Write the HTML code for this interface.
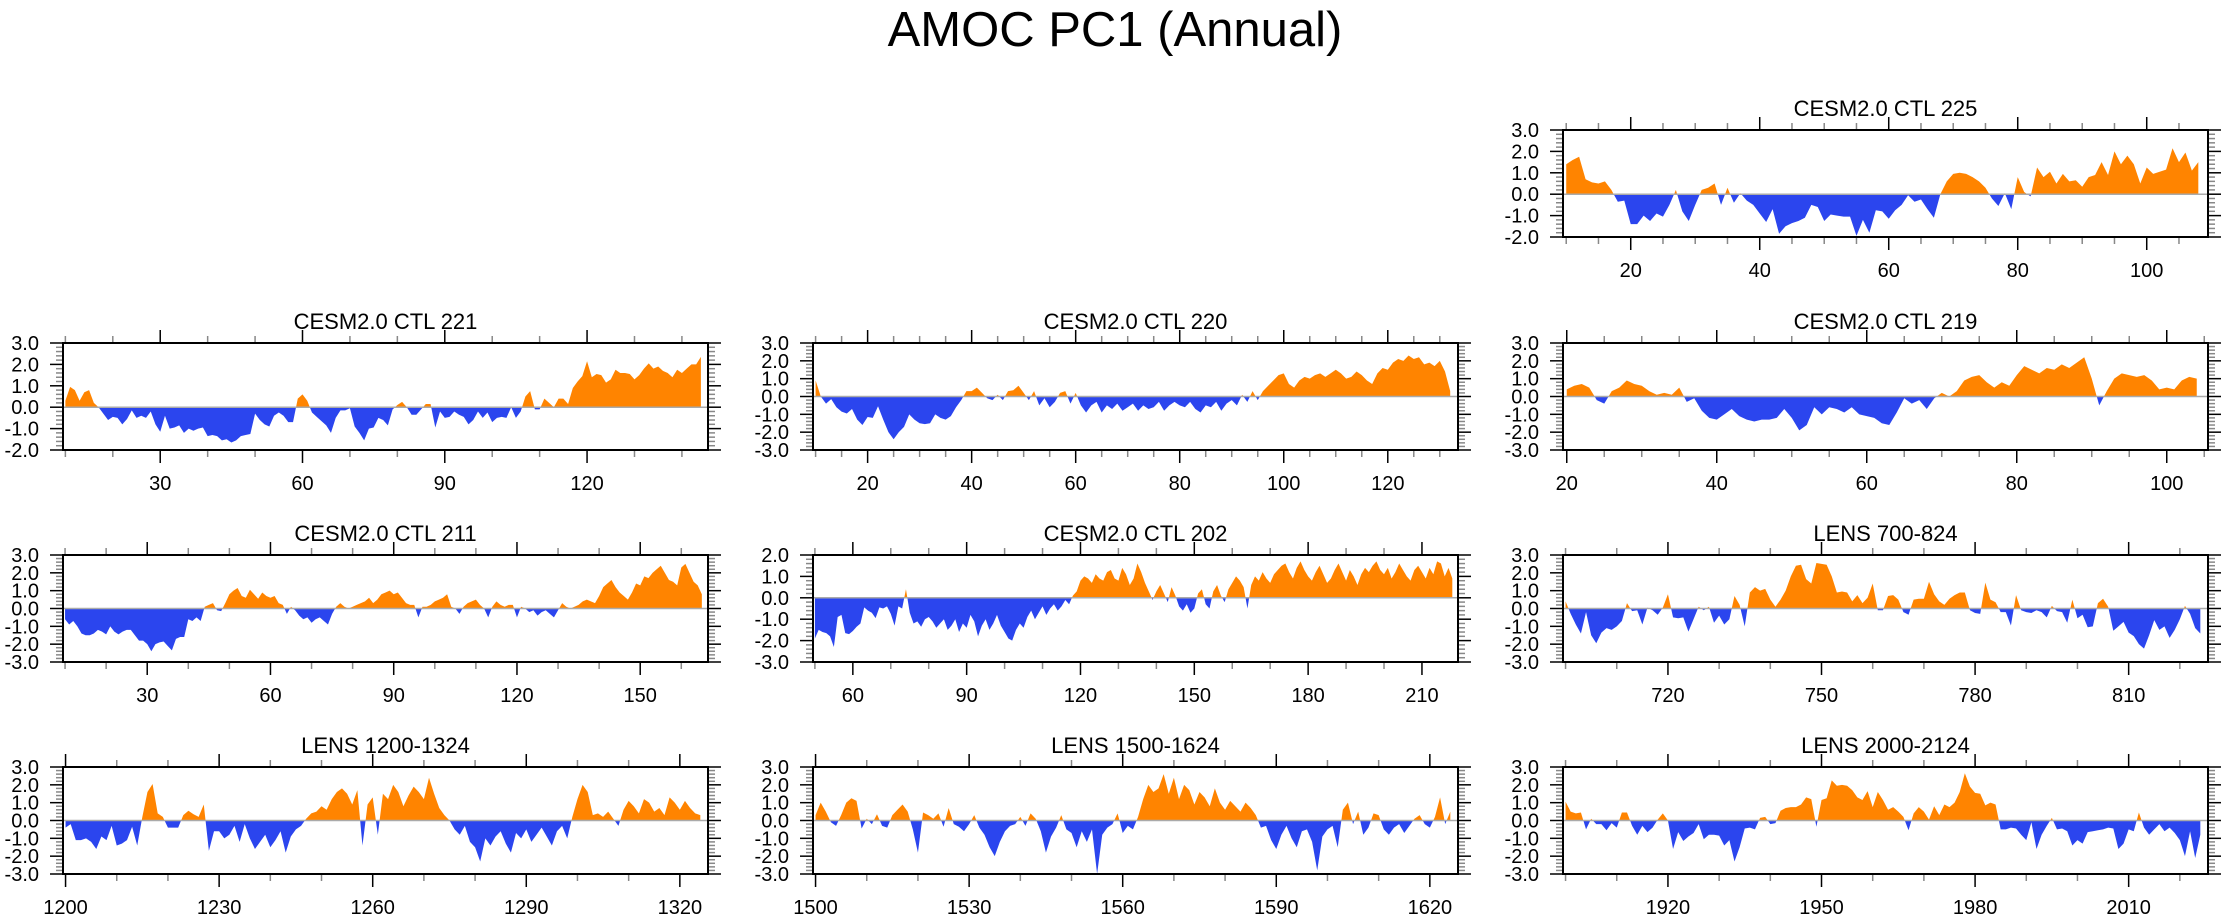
<!DOCTYPE html>
<html>
<head>
<meta charset="utf-8">
<style>
html,body{margin:0;padding:0;background:#fff;}
svg{display:block;}
text{font-family:"Liberation Sans",Arial,sans-serif;fill:#000;}
</style>
</head>
<body>
<svg id="chart" width="2230" height="921" viewBox="0 0 2230 921" xmlns="http://www.w3.org/2000/svg">
<text x="1115" y="46" font-size="49" text-anchor="middle">AMOC PC1 (Annual)</text>
</svg>
<script>
// ---- data ----
const titles = ["CESM2.0 CTL 225","CESM2.0 CTL 221","CESM2.0 CTL 220","CESM2.0 CTL 219","CESM2.0 CTL 211","CESM2.0 CTL 202","LENS 700-824","LENS 1200-1324","LENS 1500-1624","LENS 2000-2124"];
const startYears = [10,10,10,20,10,50,700,1200,1500,1900];
const yMins = [-2,-2,-3,-3,-3,-3,-3,-3,-3,-3];
const yMaxs = [3,3,3,3,3,2,3,3,3,3];
const labelSteps = [20,30,20,20,30,30,30,30,30,30];
const minorSteps = [5,10,5,5,10,10,10,10,10,10];

const pc225 = [1.4,1.6,1.75,0.7,0.55,0.5,0.6,0.2,-0.35,-0.3,
-1.4,-1.4,-1.0,-1.25,-0.9,-1.05,-0.5,0.2,-0.8,-1.25,
-0.5,0.2,0.3,0.5,-0.5,0.3,-0.4,0.05,-0.3,-0.5,
-0.9,-1.3,-0.7,-1.85,-1.5,-1.35,-1.25,-1.1,-0.5,-0.6,
-1.25,-0.95,-1.0,-1.05,-1.05,-1.95,-1.2,-1.8,-0.75,-0.8,
-1.15,-0.75,-0.5,-0.05,-0.35,-0.25,-0.7,-1.1,0.0,0.6,
0.95,1.0,0.95,0.8,0.6,0.3,-0.2,-0.55,0.05,-0.7,
0.8,0.1,-0.1,1.25,0.8,1.05,0.5,0.95,0.6,0.65,
0.35,0.8,0.9,1.5,0.9,2.0,1.4,1.8,1.4,0.5,
1.25,0.95,1.05,1.15,2.15,1.5,1.95,1.1,1.5];

const pc221 = [0.3,0.95,0.8,0.3,0.7,0.8,0.2,0.0,-0.3,-0.6,
-0.45,-0.5,-0.8,-0.55,-0.15,-0.5,-0.4,-0.5,-0.2,-0.8,
-1.15,-0.4,-1.0,-0.95,-0.85,-1.2,-1.0,-1.1,-1.0,-0.95,
-1.35,-1.3,-1.35,-1.55,-1.5,-1.65,-1.55,-1.35,-1.3,-1.25,
-0.3,-0.6,-0.8,-0.9,-0.4,-0.25,-0.4,-0.7,-0.7,0.4,
0.6,0.3,-0.25,-0.45,-0.65,-0.85,-1.2,-0.5,-0.15,-0.15,
-0.05,-0.9,-1.2,-1.55,-1.0,-0.95,-0.5,-0.6,-0.85,-0.1,
0.1,0.25,0.0,-0.35,-0.35,-0.1,0.15,0.15,-0.95,-0.2,
-0.5,-0.45,-0.2,-0.35,-0.45,-0.8,-0.6,-0.2,-0.5,-0.25,
-0.7,-0.5,-0.45,-0.5,0.0,-0.5,-0.2,0.5,0.75,-0.1,
-0.1,0.4,0.2,0.0,0.4,0.4,0.15,0.9,1.2,1.45,
2.15,1.4,1.55,1.5,1.15,1.3,1.75,1.6,1.6,1.55,
1.3,1.5,1.8,2.05,1.8,1.9,1.7,1.6,1.4,1.75,
1.6,1.8,2.0,2.0,2.35];

const pc220 = [0.9,0.0,-0.4,-0.15,-0.6,-0.85,-0.95,-0.7,-1.3,-1.6,
-1.15,-1.2,-0.55,-1.3,-2.0,-2.4,-2.0,-1.7,-1.0,-1.3,
-1.5,-1.55,-1.5,-1.0,-1.2,-1.3,-1.1,-0.6,-0.2,0.3,
0.3,0.5,0.2,-0.1,-0.2,0.1,-0.2,0.3,0.35,0.6,
0.2,-0.2,0.3,-0.5,-0.1,-0.6,-0.3,0.2,0.3,-0.4,
0.2,-0.5,-0.9,-0.5,-0.3,-0.9,-0.5,-0.7,-0.4,-0.8,
-0.6,-0.4,-0.8,-0.5,-0.7,-0.6,-0.3,-0.8,-0.5,-0.3,
-0.5,-0.6,-0.3,-0.7,-0.9,-0.5,-0.6,-0.3,-0.8,-0.4,
-0.2,-0.5,0.1,-0.3,0.3,-0.2,0.3,0.6,0.9,1.2,
1.3,0.7,0.5,0.9,1.1,1.0,1.2,1.3,1.1,1.3,
1.5,1.3,1.0,1.1,1.4,1.2,0.9,0.7,1.3,1.6,
1.5,1.9,2.1,2.0,2.3,2.1,2.2,1.8,1.9,1.7,
2.0,1.4,0.3];

const pc219 = [0.4,0.6,0.7,0.5,-0.2,-0.4,0.3,0.5,0.9,0.7,
0.6,0.3,0.1,0.2,0.1,0.5,-0.3,-0.1,-0.8,-1.2,
-1.3,-1.0,-0.7,-1.1,-1.3,-1.4,-1.3,-1.3,-1.2,-0.7,
-1.2,-1.9,-1.6,-0.6,-1.0,-0.6,-0.7,-0.9,-0.6,-1.0,
-1.1,-1.2,-1.5,-1.6,-0.9,-0.1,-0.4,-0.2,-0.7,-0.1,
0.2,0.0,0.3,0.9,1.1,1.2,0.8,0.5,0.8,0.6,
1.2,1.7,1.5,1.3,1.6,1.5,1.8,1.6,1.9,2.2,
1.0,-0.5,0.3,1.0,1.3,1.2,1.1,1.2,0.9,0.4,
0.5,0.4,0.9,1.1,1.0];

const pc211 = [-0.6,-0.9,-0.7,-1.0,-1.4,-1.5,-1.5,-1.4,-1.2,-1.3,
-1.45,-1.0,-1.3,-1.45,-1.3,-1.2,-1.2,-1.5,-1.8,-1.8,
-2.0,-2.4,-2.0,-1.9,-1.85,-2.1,-2.35,-1.7,-1.6,-1.6,
-0.6,-0.7,-0.5,-0.7,0.1,0.2,0.3,-0.1,-0.15,0.3,
0.8,1.0,1.15,0.7,0.6,1.05,0.8,0.55,0.9,0.7,
0.6,0.7,0.3,0.2,-0.3,0.1,-0.1,-0.4,-0.6,-0.5,
-0.8,-0.6,-0.5,-0.7,-0.9,-0.3,0.1,0.3,0.1,0.0,
0.1,0.2,0.3,0.4,0.6,0.3,0.5,0.8,0.9,1.0,
0.8,0.9,0.6,0.3,0.2,0.2,-0.5,0.1,0.1,0.2,
0.4,0.5,0.6,0.8,0.1,0.0,-0.3,0.1,0.3,0.4,
0.5,0.2,0.0,-0.5,0.1,0.4,0.2,0.1,0.2,0.2,
-0.5,0.1,0.0,-0.2,-0.1,-0.4,-0.2,-0.1,-0.3,-0.5,
-0.1,0.3,0.1,0.0,0.1,0.2,0.4,0.5,0.4,0.3,
0.7,1.2,1.4,1.6,1.2,0.9,0.7,0.5,0.9,1.4,
1.3,1.8,1.7,2.0,2.2,2.4,2.0,1.6,1.5,1.3,
2.3,2.5,2.0,1.5,1.3,0.8];

const pc202 = [-1.9,-1.5,-1.6,-1.65,-1.8,-2.3,-0.9,-0.8,-1.65,-1.7,
-1.55,-1.35,-1.2,-0.45,-0.6,-0.7,-0.95,-0.45,-0.5,-0.4,
-0.75,-1.3,-0.4,-0.5,0.4,-0.7,-1.2,-1.1,-1.35,-1.0,
-0.9,-1.1,-1.4,-1.2,-1.0,-1.5,-1.3,-1.0,-1.6,-1.2,
-1.4,-0.8,-1.1,-1.8,-1.3,-1.0,-1.5,-1.2,-0.8,-1.3,
-1.6,-1.9,-2.0,-1.5,-1.2,-1.4,-0.9,-0.6,-1.0,-0.7,
-0.4,-0.8,-0.5,-0.3,-0.6,-0.4,-0.1,-0.3,0.1,0.3,
0.8,1.0,0.9,0.7,1.1,0.9,0.8,1.2,1.3,0.9,
0.8,1.4,1.1,0.6,0.9,1.6,1.2,0.7,0.3,-0.1,
0.3,0.6,0.2,-0.2,0.5,0.1,-0.4,-0.6,-0.3,-0.7,
-0.5,0.2,0.4,-0.3,-0.5,0.3,0.6,0.1,-0.2,0.4,
0.7,1.0,0.8,0.5,-0.5,0.6,1.0,0.8,1.2,0.9,
0.7,1.1,1.3,1.5,1.6,1.2,0.9,1.4,1.7,1.3,
1.0,0.8,1.2,1.5,1.1,0.7,0.9,1.3,1.6,1.2,
0.8,1.3,1.0,0.6,1.1,1.4,1.2,1.5,1.7,1.3,
1.1,1.4,0.9,1.2,1.6,1.3,1.0,0.8,1.3,1.5,
1.2,0.9,1.4,1.1,1.7,1.6,1.0,1.4,0.9];

const pc700 = [0.4,-0.3,-0.9,-1.4,-0.2,-1.5,-1.95,-1.35,-1.1,-1.2,
-1.0,-0.7,0.3,-0.15,-0.1,-0.9,0.05,-0.1,-0.35,0.05,
0.8,-0.5,-0.55,-0.5,-1.3,-0.6,0.1,-0.1,0.1,-0.8,
-0.4,-0.9,-0.6,0.7,0.2,-1.0,0.9,1.2,1.0,1.1,
0.5,0.1,0.5,1.0,1.8,2.4,2.45,1.65,1.4,2.55,
2.5,2.45,1.8,0.9,0.95,0.9,0.4,0.75,0.3,0.6,
1.4,-0.1,-0.1,0.7,0.75,0.5,-0.2,-0.35,0.5,0.55,
0.55,1.5,0.8,0.4,0.2,0.55,0.75,0.9,0.9,-0.1,
-0.25,-0.3,1.45,0.5,0.35,-0.2,-0.2,-0.95,0.75,-0.1,
-0.2,-0.25,-0.1,-0.2,-0.5,0.15,-0.15,-0.2,-0.8,0.5,
-0.55,-0.35,-1.05,-1.0,0.3,0.55,0.1,-1.25,-1.0,-0.75,
-1.35,-1.55,-2.0,-2.25,-1.5,-0.65,-1.2,-1.0,-1.65,-1.2,
-0.6,0.15,-0.3,-1.1,-1.4];

const pc1200 = [-0.4,-0.2,-1.1,-1.1,-1.0,-1.2,-1.6,-0.9,-1.1,-0.3,
-1.4,-1.3,-1.1,-0.35,-1.4,0.2,1.6,2.05,0.4,0.2,
-0.4,-0.4,-0.4,0.3,0.55,0.35,0.2,0.9,-1.7,-0.6,
-0.6,-1.0,-0.8,-0.3,-1.2,-0.2,-1.0,-1.6,-1.2,-0.8,
-1.5,-1.1,-0.6,-1.8,-0.9,-0.5,-0.3,0.1,0.4,0.5,
0.8,0.6,1.2,1.6,1.8,1.5,0.9,1.7,-1.4,0.9,
1.3,-0.8,1.5,1.2,2.0,1.6,0.8,1.4,1.9,1.6,
1.2,2.4,1.5,0.7,0.3,0.0,-0.5,-0.8,-0.3,-1.2,
-1.5,-2.3,-1.0,-1.4,-0.9,-0.6,-1.3,-1.8,-0.7,-1.0,
-0.5,-1.2,-0.8,-0.4,-0.9,-1.4,-0.6,-0.3,-1.0,0.2,
1.2,2.0,1.6,0.3,0.4,0.2,0.5,0.1,-0.3,0.6,
1.1,0.8,0.4,1.2,1.0,0.5,0.7,0.3,1.3,1.0,
0.6,1.1,0.7,0.4,0.3];

const pc1500 = [0.3,1.0,0.5,-0.1,-0.3,0.3,1.0,1.25,1.1,-0.45,
0.1,-0.2,0.35,-0.3,-0.4,0.3,0.6,0.9,0.5,-0.5,
-1.8,0.45,0.3,0.1,0.4,-0.35,0.7,-0.2,-0.35,-0.6,
-0.2,0.3,-0.4,-0.8,-1.5,-2.0,-1.2,-0.6,-0.3,-0.2,
0.2,-0.3,0.4,0.1,-0.6,-1.8,-0.9,-0.4,0.3,-0.5,
-0.7,-1.5,-0.6,-1.2,-0.5,-3.0,-0.8,-0.4,-0.2,0.4,
-0.7,-0.3,-0.5,0.2,1.2,2.0,1.6,1.8,2.6,1.5,
2.4,1.2,2.0,1.7,0.9,1.6,1.3,0.8,1.8,1.0,
0.6,1.1,0.8,0.5,1.0,0.7,0.3,-0.4,-0.3,-1.1,
-1.6,-0.8,-0.3,-1.0,-1.5,-0.6,-0.5,-1.2,-2.8,-0.9,
-0.5,-0.3,-1.5,0.6,1.0,-0.2,0.5,-0.8,-0.4,0.4,
0.3,-0.5,-0.8,-0.4,-0.2,-0.7,-0.3,0.1,0.3,-0.2,
-0.4,0.2,1.3,-0.2,0.5];

const pc2000 = [1.05,0.5,0.4,0.45,-0.5,0.1,-0.2,-0.2,-0.55,-0.15,
-0.4,0.45,0.45,-0.3,-0.8,-0.3,-0.65,-0.4,0.05,0.4,
0.0,-1.6,-0.65,-1.15,-0.9,-0.7,-0.2,-1.05,-0.8,-0.8,
-0.85,-1.4,-1.1,-2.3,-1.5,-0.45,-0.4,-0.5,0.15,0.2,
-0.2,-0.15,0.55,0.7,0.75,0.75,0.9,1.3,1.2,-0.35,
1.15,1.25,2.25,1.95,2.0,1.95,1.7,1.3,1.15,1.65,
0.75,1.6,1.15,0.6,0.75,0.5,0.2,-0.55,0.4,0.75,
0.5,0.05,0.8,0.3,0.9,0.75,1.0,1.6,2.65,1.9,
1.55,1.5,0.85,1.0,0.9,-0.5,-0.5,-0.4,-0.45,-0.8,
-1.1,-0.1,-1.6,-0.8,-0.3,0.15,-0.5,-0.45,-0.6,-1.4,
-1.1,-1.3,-0.65,-0.6,-0.55,-0.5,-0.4,-0.45,-1.6,-1.3,
-0.5,-0.6,0.45,-0.4,-0.8,-0.5,-0.2,-0.6,-0.4,-0.7,
-1.1,-2.0,-0.6,-2.1,-0.8];

const seriesList = [pc225,pc221,pc220,pc219,pc211,pc202,pc700,pc1200,pc1500,pc2000];

// ---- layout (not data) ----
const layout = [
  {x:1563,y:130},{x:63,y:343},{x:813,y:343},{x:1563,y:343},
  {x:63,y:555},{x:813,y:555},{x:1563,y:555},
  {x:63,y:767},{x:813,y:767},{x:1563,y:767}
];
const PW = 645, PH = 107;
const NS = "http://www.w3.org/2000/svg";
const svg = document.getElementById('chart');

function mk(tag, attrs, parent){
  const e = document.createElementNS(NS, tag);
  for (const k in attrs) e.setAttribute(k, attrs[k]);
  parent.appendChild(e);
  return e;
}

function slug(s){ return s.toLowerCase().replace(/[^a-z0-9]+/g,'-').replace(/-+$/,''); }

seriesList.forEach((vals, i) => {
  const L = layout[i];
  const x0 = startYears[i];
  const xMin = x0 - 0.5, xMax = x0 + vals.length - 1 + 1.5;
  const yMin = yMins[i], yMax = yMaxs[i];
  const sx = v => L.x + (v - xMin) / (xMax - xMin) * PW;
  const sy = v => L.y + (yMax - v) / (yMax - yMin) * PH;

  const g = mk('g', {}, svg);
  
  

  const t = mk('text', {x: L.x + PW/2, y: L.y - 14, 'font-size': 22, 'text-anchor': 'middle'}, g);
  
  
  t.textContent = titles[i];

  const pts = [];
  for (let k = 0; k < vals.length; k++) {
    const xv = x0 + k, yv = vals[k];
    if (k > 0) {
      const pv = vals[k-1];
      if ((pv > 0 && yv < 0) || (pv < 0 && yv > 0)) {
        const f = pv / (pv - yv);
        pts.push([x0 + k - 1 + f, 0]);
      }
    }
    pts.push([xv, yv]);
  }
  function areaPath(clip){
    let d = 'M' + sx(pts[0][0]).toFixed(2) + ',' + sy(0).toFixed(2);
    pts.forEach(p => { d += 'L' + sx(p[0]).toFixed(2) + ',' + sy(clip(p[1])).toFixed(2); });
    d += 'L' + sx(pts[pts.length-1][0]).toFixed(2) + ',' + sy(0).toFixed(2) + 'Z';
    return d;
  }
  const pos = mk('path', {d: areaPath(v => Math.max(v,0)), fill: '#FF8400', stroke: 'none'}, g);
  
  
  const neg = mk('path', {d: areaPath(v => Math.min(v,0)), fill: '#2B45EE', stroke: 'none'}, g);
  
  

  const z = mk('line', {x1: L.x, x2: L.x + PW, y1: sy(0), y2: sy(0), stroke: '#aaa', 'stroke-width': 1.5}, g);
  
  

  const yt = mk('g', {}, g);
  
  
  for (let m = Math.round(yMin*5); m <= Math.round(yMax*5); m++) {
    const v = m / 5, yy = sy(v);
    const major = (m % 5 === 0);
    const len = major ? 13 : 7;
    const col = major ? '#000' : '#888';
    mk('line', {x1: L.x - len, x2: L.x, y1: yy, y2: yy, stroke: col, 'stroke-width': 1.5}, yt);
    mk('line', {x1: L.x + PW, x2: L.x + PW + len, y1: yy, y2: yy, stroke: col, 'stroke-width': 1.5}, yt);
    if (major) {
      const lb = mk('text', {x: L.x - 24, y: yy + 7, 'font-size': 20, 'text-anchor': 'end'}, yt);
      
      
      lb.textContent = v.toFixed(1);
    }
  }

  const xt = mk('g', {}, g);
  
  
  const ms = minorSteps[i], ls = labelSteps[i];
  for (let v = Math.ceil(xMin / ms) * ms; v <= xMax; v += ms) {
    const xx = sx(v);
    const major = (v % ls === 0);
    const len = major ? 13 : 7;
    const col = major ? '#000' : '#888';
    mk('line', {x1: xx, x2: xx, y1: L.y + PH, y2: L.y + PH + len, stroke: col, 'stroke-width': 1.5}, xt);
    mk('line', {x1: xx, x2: xx, y1: L.y - len, y2: L.y, stroke: col, 'stroke-width': 1.5}, xt);
    if (major) {
      const lb = mk('text', {x: xx, y: L.y + PH + 40, 'font-size': 20, 'text-anchor': 'middle'}, xt);
      
      
      lb.textContent = String(v);
    }
  }

  const fr = mk('rect', {x: L.x, y: L.y, width: PW, height: PH, fill: 'none', stroke: '#000', 'stroke-width': 2}, g);
  
  
});
</script>
</body>
</html>
